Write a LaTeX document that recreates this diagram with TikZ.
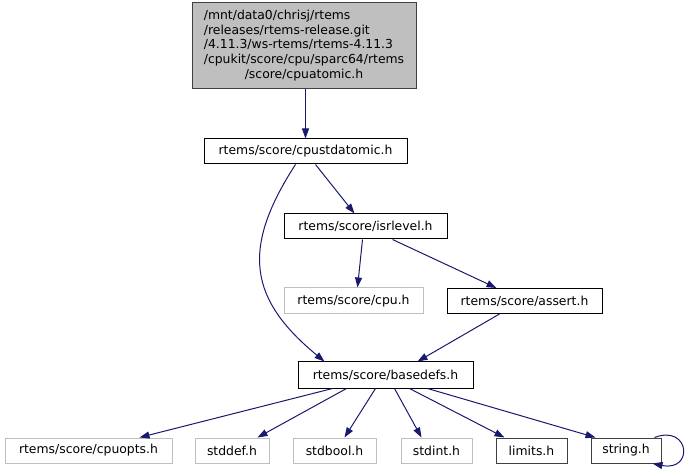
\documentclass[tikz,border=0pt]{standalone}
\usepackage{fontspec}
\setmainfont{DejaVu Sans}
\usetikzlibrary{arrows.meta}
\definecolor{edgeblue}{HTML}{191970}
\definecolor{missgray}{HTML}{BFBFBF}
\definecolor{rootfill}{HTML}{BFBFBF}
\definecolor{darkline}{HTML}{404040}
\begin{document}
\begin{tikzpicture}[x=1pt,y=-1pt,
  every node/.style={font=\fontsize{12.4}{14.6}\selectfont, inner sep=0pt, anchor=center},
  filebox/.style={draw=black, line width=1pt, minimum height=25pt},
  missbox/.style={draw=missgray, line width=1pt, minimum height=25pt},
  rootbox/.style={draw=darkline, fill=rootfill, line width=1pt},
  dep/.style={draw=edgeblue, line width=1pt, -{Triangle[length=10pt,width=7pt]}}]
\useasboundingbox (0,0) rectangle (691,470);
\node[rootbox, minimum width=224pt, minimum height=86pt] (top) at (304,46)
  {\begin{tabular}{@{}l@{}}/mnt/data0/chrisj/rtems\\/releases/rtems-release.git\\/4.11.3/ws-rtems/rtems-4.11.3\\/cpukit/score/cpu/sparc64/rtems\\\multicolumn{1}{@{}c@{}}{/score/cpuatomic.h}\end{tabular}};
\node[filebox, minimum width=203pt] (cpustd) at (305.5,151.5) {rtems/score/cpustdatomic.h};
\node[filebox, minimum width=163pt] (isr) at (365.5,226.5) {rtems/score/isrlevel.h};
\node[missbox, minimum width=139pt, minimum height=26pt] (cpu) at (353.5,301) {rtems/score/cpu.h};
\node[filebox, minimum width=155pt] (assert) at (524.5,301) {rtems/score/assert.h};
\node[filebox, minimum width=175pt, minimum height=26pt] (base) at (385.5,375) {rtems/score/basedefs.h};
\node[missbox, minimum width=167pt] (cpuopts) at (88.5,450.5) {rtems/score/cpuopts.h};
\node[missbox, minimum width=74pt] (stddef) at (232,450.5) {stddef.h};
\node[missbox, minimum width=83pt] (stdbool) at (334.5,450.5) {stdbool.h};
\node[missbox, minimum width=71pt] (stdint) at (436.5,450.5) {stdint.h};
\node[filebox, draw=darkline, minimum width=71pt] (limits) at (531.5,450.5) {limits.h};
\node[filebox, draw=darkline, minimum width=70pt] (string) at (626,450.5) {string.h};

\draw[dep] (top.south -| cpustd.north) -- (cpustd.north);
\draw[dep] ([xshift=112pt]cpustd.south west) -- ([xshift=71pt]isr.north west);
\draw[dep] ([xshift=92pt]cpustd.south west) .. controls (240,250) and (250,300) .. ([xshift=27pt]base.north west);
\draw[dep] ([xshift=79pt]isr.south west) -- ([xshift=74pt]cpu.north west);
\draw[dep] ([xshift=109pt]isr.south west) -- ([xshift=50pt]assert.north west);
\draw[dep] ([xshift=53pt]assert.south west) -- ([xshift=120pt]base.north west);
\draw[dep] ([xshift=35pt]base.south west) -- ([xshift=135pt]cpuopts.north west);
\draw[dep] ([xshift=49pt]base.south west) -- ([xshift=63pt]stddef.north west);
\draw[dep] ([xshift=78pt]base.south west) -- ([xshift=52pt]stdbool.north west);
\draw[dep] ([xshift=97pt]base.south west) -- ([xshift=21pt]stdint.north west);
\draw[dep] ([xshift=112pt]base.south west) -- ([xshift=9pt]limits.north west);
\draw[dep] ([xshift=130pt]base.south west) -- ([xshift=5pt]string.north west);
\draw[dep] ([xshift=-7pt]string.north east) .. controls (690,424) and (694,472) .. ([xshift=-9pt]string.south east);
\end{tikzpicture}
\end{document}
